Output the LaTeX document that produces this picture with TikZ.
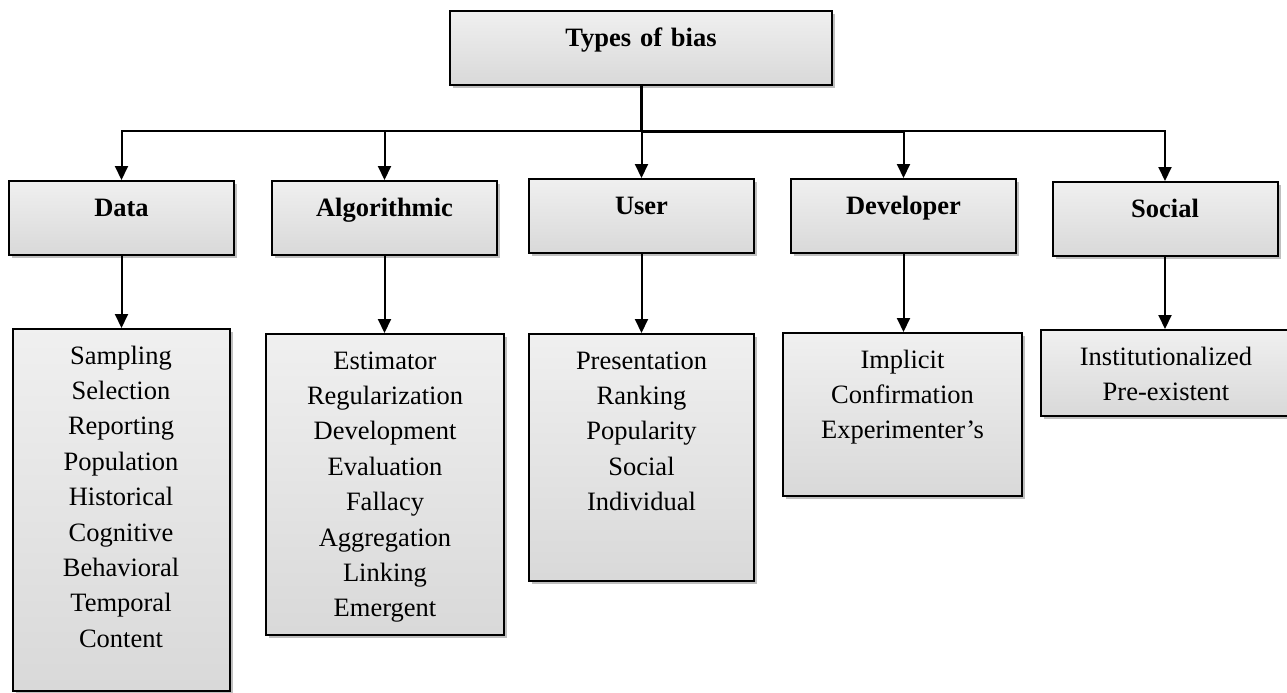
\documentclass[tikz,border=0pt]{standalone}
\usepackage{fontspec}
\setmainfont{Liberation Serif}
\usepackage{tikz}
\usetikzlibrary{arrows.meta,shadows}
\tikzset{
    biasbox/.style = {draw=black, line width=1pt, rectangle, anchor=north, align=center,
        top color=gray!12, bottom color=gray!30, inner xsep=0pt, inner ysep=0pt,
        text height=17.5pt, font=\fontsize{13.25pt}{17.7pt}\selectfont,
        drop shadow={shadow xshift=1.5pt, shadow yshift=-1.5pt, fill=black, opacity=0.25}},
    headbox/.style = {biasbox, text width=112.5pt, text depth=19.5pt, font=\fontsize{13.25pt}{17.7pt}\selectfont\bfseries},
    leafbox/.style = {biasbox},
    link/.style = {line width=1pt, -{Triangle[width=6.5pt, length=7pt]}},
}

\begin{document}
\begin{tikzpicture}[x=0.5pt, y=-0.5pt]
\useasboundingbox (0,0) rectangle (1287,692);
% root
\node [headbox, text width=191pt] (root) at (641,10) {Types of bias};
\coordinate (split) at (641,131);
% categories
\node [headbox] (data) at (121.5,180) {Data};
\node [headbox] (algo) at (384.5,180) {Algorithmic};
\node [headbox] (user) at (641.5,178) {User};
\node [headbox] (dev) at (903.5,178) {Developer};
\node [headbox] (social) at (1165,181) {Social};
% leaves
\node [leafbox, text width=108.5pt, text depth=163.5pt] (data-list) at (121,328)
    {Sampling\\Selection\\Reporting\\Population\\Historical\\Cognitive\\Behavioral\\Temporal\\Content};
\node [leafbox, text width=119pt, text depth=133pt] (algo-list) at (385,333)
    {Estimator\\Regularization\\Development\\Evaluation\\Fallacy\\Aggregation\\Linking\\Emergent};
\node [leafbox, text width=112.5pt, text depth=106pt] (user-list) at (641.5,333)
    {Presentation\\Ranking\\Popularity\\Social\\Individual};
\node [leafbox, text width=119.5pt, text depth=64pt] (dev-list) at (902.5,332)
    {Implicit\\Confirmation\\Experimenter's};
\node [leafbox, text width=125pt, text depth=25.5pt] (social-list) at (1166,329)
    {Institutionalized\\Pre-existent};
% connectors
\draw [line width=1.5pt] (root.south -| split) -- (split);
\draw [line width=1.5pt] (split) -- (split -| dev);
\draw [link] (split) -| (data);
\draw [link] (split) -| (algo);
\draw [link] (split) -- (split -| user) -- (user);
\draw [link] (split) -| (dev);
\draw [link] (split) -| (social);
\draw [link] (data.south) -- (data.south |- data-list.north);
\draw [link] (algo.south) -- (algo.south |- algo-list.north);
\draw [link] (user.south) -- (user.south |- user-list.north);
\draw [link] (dev.south) -- (dev.south |- dev-list.north);
\draw [link] (social.south) -- (social.south |- social-list.north);
\end{tikzpicture}
\end{document}
